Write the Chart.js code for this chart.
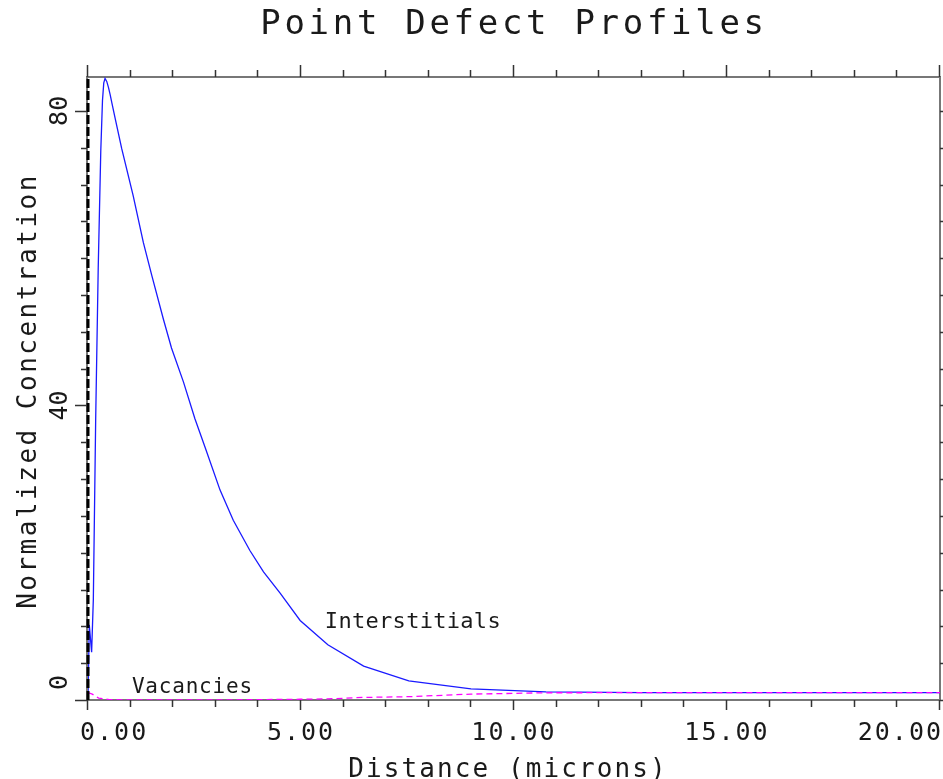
<!DOCTYPE html>
<html>
<head>
<meta charset="utf-8">
<title>Point Defect Profiles</title>
<script src="https://cdn.jsdelivr.net/npm/chart.js@4.4.1/dist/chart.umd.min.js"></script>
<style>
    html, body { margin: 0; padding: 0; background: #fff; }
    #chart { display: block; }
</style>
</head>
<body>
<canvas id="chart" width="943" height="779"></canvas>
<script>
// === DATOS ===
const distancia = [0, 0.03, 0.085, 0.125, 0.18, 0.24, 0.30, 0.34, 0.37, 0.40, 0.44, 0.48, 0.52, 0.56, 0.64, 0.79, 1.06, 1.30, 1.50, 1.77, 1.96, 2.24, 2.51, 2.75, 3.10, 3.41, 3.80, 4.12, 4.51, 4.98, 5.63, 6.47, 7.53, 8.99, 10.75, 13.0, 16.0, 20.0];
const intersticiales = [0, 10.2, 6.5, 13.6, 38.0, 58.7, 74.6, 81.4, 83.8, 84.4, 84.0, 83.2, 82.2, 81.1, 78.9, 74.9, 68.5, 62.1, 57.6, 51.7, 47.8, 43.2, 38.2, 34.3, 28.5, 24.4, 20.3, 17.4, 14.5, 10.8, 7.5, 4.6, 2.6, 1.5, 1.1, 1.0, 1.0, 1.0];

const distanciaVac = [0, 0.1, 0.25, 0.5, 1.0, 3.0, 4.98, 5.63, 6.47, 7.53, 8.99, 10.75, 13.0, 16.0, 20.0];
const vacancias = [1.0, 0.8, 0.25, 0.05, 0, 0, 0.1, 0.15, 0.35, 0.45, 0.8, 0.98, 1.0, 1.0, 1.0];

const limiteX = [0, 20];
const limiteY = [0, 84.6];

const ticksX = [0, 5, 10, 15, 20];
const etiquetasX = ["0.00", "5.00", "10.00", "15.00", "20.00"];
const ticksY = [0, 40, 80];
const etiquetasY = ["0", "40", "80"];

const MONO = '"DejaVu Sans Mono", "Liberation Mono", monospace';

function puntos(xs, ys) {
    return xs.map((x, i) => ({ x: x, y: ys[i] }));
}

function texto(ctx, t, x, y, size, spacing, align, rot) {
    ctx.save();
    ctx.font = size + "px " + MONO;
    ctx.letterSpacing = spacing + "px";
    ctx.textAlign = align || "left";
    ctx.textBaseline = "alphabetic";
    ctx.fillStyle = "#1a1a1a";
    ctx.translate(x, y);
    if (rot) ctx.rotate(rot);
    ctx.fillText(t, 0, 0);
    ctx.restore();
}

// === MARCO, MARCAS Y TEXTOS ===
const marcoPlugin = {
    id: "marco",
    beforeDatasetsDraw(chart) {
        const { ctx, chartArea: a } = chart;
        ctx.save();
        ctx.strokeStyle = "#777";
        ctx.lineWidth = 2;
        ctx.strokeRect(a.left - 1, a.top, a.right - a.left + 1, a.bottom - a.top);
        ctx.restore();
    },
    afterDraw(chart) {
        const { ctx, chartArea: a, scales } = chart;
        const xs = scales.x, ys = scales.y;

        ctx.save();
        ctx.strokeStyle = "#333";
        ctx.lineWidth = 1.5;
        ctx.beginPath();
        // marcas del eje x (abajo y arriba) cada micra
        for (let v = limiteX[0]; v <= limiteX[1]; v++) {
            const px = Math.round(xs.getPixelForValue(v)) - 0.5;
            const mayor = v % 5 === 0;
            ctx.moveTo(px, a.bottom);
            ctx.lineTo(px, a.bottom + (mayor ? 10 : 7));
            ctx.moveTo(px, a.top);
            ctx.lineTo(px, a.top - (mayor ? 12 : 7));
        }
        // marcas del eje y cada 5 unidades
        for (let v = 0; v <= limiteY[1]; v += 5) {
            const py = Math.round(ys.getPixelForValue(v)) + 0.5;
            const mayor = v % 40 === 0;
            ctx.moveTo(a.left - 1, py);
            ctx.lineTo(a.left - 1 - (mayor ? 12 : 6), py);
            ctx.moveTo(a.right, py);
            ctx.lineTo(a.right + (mayor ? 12 : 6), py);
        }
        ctx.stroke();
        ctx.restore();

        // etiquetas del eje x
        ticksX.forEach((v, i) => {
            const px = xs.getPixelForValue(v);
            let align = "center", x = px;
            if (i === 0) { align = "left"; x = a.left - 8; }
            if (i === ticksX.length - 1) { align = "right"; x = chart.width; }
            texto(ctx, etiquetasX[i], x, 740, 25, 2, align);
        });

        // etiquetas del eje y (giradas)
        ticksY.forEach((v, i) => {
            ctx.save();
            ctx.font = "25px " + MONO;
            const w = ctx.measureText(etiquetasY[i]).width;
            ctx.restore();
            const py = Math.min(ys.getPixelForValue(v), a.bottom - 10 - w / 2);
            texto(ctx, etiquetasY[i], 67, py, 25, 0, "center", -Math.PI / 2);
        });

        // titulos
        texto(ctx, "Point Defect Profiles", 514, 34, 34, 3.7, "center");
        texto(ctx, "Distance (microns)", 508, 777, 26, 2.1, "center");
        texto(ctx, "Normalized Concentration", 36, 391, 26, 2.5, "center", -Math.PI / 2);

        // rotulos de las curvas
        texto(ctx, "Interstitials", xs.getPixelForValue(5.56), ys.getPixelForValue(9.8), 22, 0.3, "left");
        texto(ctx, "Vacancies", xs.getPixelForValue(1.03), ys.getPixelForValue(0.95), 21, 0.8, "left");
    }
};

// === GRAFICO ===
new Chart(document.getElementById("chart").getContext("2d"), {
    type: "scatter",
    data: {
        datasets: [
            {
                label: "Surface",
                data: puntos([0, 0], limiteY),
                showLine: true,
                clip: false,
                borderColor: "#000",
                borderWidth: 3,
                borderDash: [9, 3],
                pointRadius: 0
            },
            {
                label: "Vacancies",
                data: puntos(distanciaVac, vacancias),
                showLine: true,
                borderColor: "#ff00ff",
                borderWidth: 1.3,
                borderDash: [6, 4],
                pointRadius: 0
            },
            {
                label: "Interstitials",
                data: puntos(distancia, intersticiales),
                showLine: true,
                borderColor: "#1a1aff",
                borderWidth: 1.3,
                pointRadius: 0
            }
        ]
    },
    options: {
        responsive: false,
        animation: false,
        layout: { padding: { left: 88, top: 77, right: 3, bottom: 79 } },
        scales: {
            x: { type: "linear", min: limiteX[0], max: limiteX[1], display: false },
            y: { type: "linear", min: limiteY[0], max: limiteY[1], display: false }
        },
        plugins: {
            legend: { display: false },
            tooltip: { enabled: false }
        }
    },
    plugins: [marcoPlugin]
});
</script>
</body>
</html>
